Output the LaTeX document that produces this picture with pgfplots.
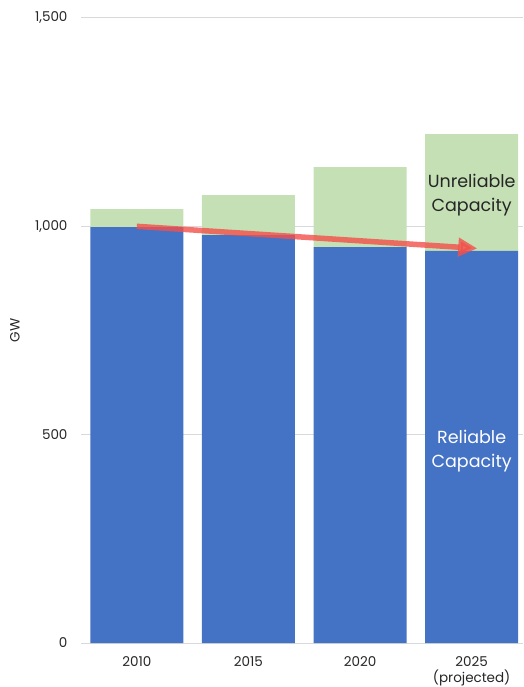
\documentclass[border=0pt]{standalone}
\usepackage{fontspec}
\setmainfont{Poppins}
\usepackage{pgfplots}
\pgfplotsset{compat=1.18}
\usetikzlibrary{arrows.meta}
\definecolor{relblue}{HTML}{4472C4}
\definecolor{unrgreen}{HTML}{C5E0B4}
\definecolor{arrowred}{HTML}{F2504A}
\definecolor{gridgray}{HTML}{D9D9D9}
\begin{document}
\begin{tikzpicture}
\begin{axis}[
  scale only axis, width=442pt, height=625pt,
  xmin=-0.5, xmax=3.46, ymin=0, ymax=1500,
  ybar stacked, bar width=0.834,
  axis line style={draw=none},
  major tick style={draw=none},
  ymajorgrids, grid style={gridgray, line width=1pt},
  ytick={0,500,1000,1500},
  xtick={0,1,2,3},
  xticklabels={2010,2015,2020,{2025\\(projected)}},
  /pgf/number format/assume math mode=true,
  /pgf/number format/1000 sep={,},
  ticklabel style={font=\fontsize{13.5}{16.5}\selectfont, text=black!85},
  xticklabel style={align=center, anchor=north, yshift=-10pt},
  yticklabel style={anchor=east, xshift=-10pt},
  ylabel={GW},
  every axis y label/.style={at={(axis description cs:0,0.5)}, xshift=-66pt, rotate=90, anchor=center, font=\fontsize{13.5}{16}\selectfont, text=black!85},
]
\addplot+[fill=relblue, draw=none] coordinates {(0,998) (1,979) (2,950) (3,941)};
\addplot+[fill=unrgreen, draw=none] coordinates {(0,43) (1,96) (2,192) (3,280)};
\coordinate (arS) at (axis cs:0,1000);
\coordinate (arE) at (axis cs:3.05,947);
\coordinate (tU) at (axis cs:3,1076);
\coordinate (tR) at (axis cs:3,461);
\end{axis}
\draw[draw=arrowred, opacity=0.8, line width=5.5pt, -{Triangle[length=19pt,width=18pt]}]
  (arS) -- (arE);
\node[font=\fontsize{17.5}{24}\selectfont, align=center, text=black!85] at (tU) {Unreliable\\Capacity};
\node[font=\fontsize{17.5}{24}\selectfont, align=center, text=white] at (tR) {Reliable\\Capacity};
\pgfresetboundingbox
\path (current axis.south west) ++(-81pt,-44pt) rectangle ++(523pt,687pt);
\end{tikzpicture}
\end{document}
